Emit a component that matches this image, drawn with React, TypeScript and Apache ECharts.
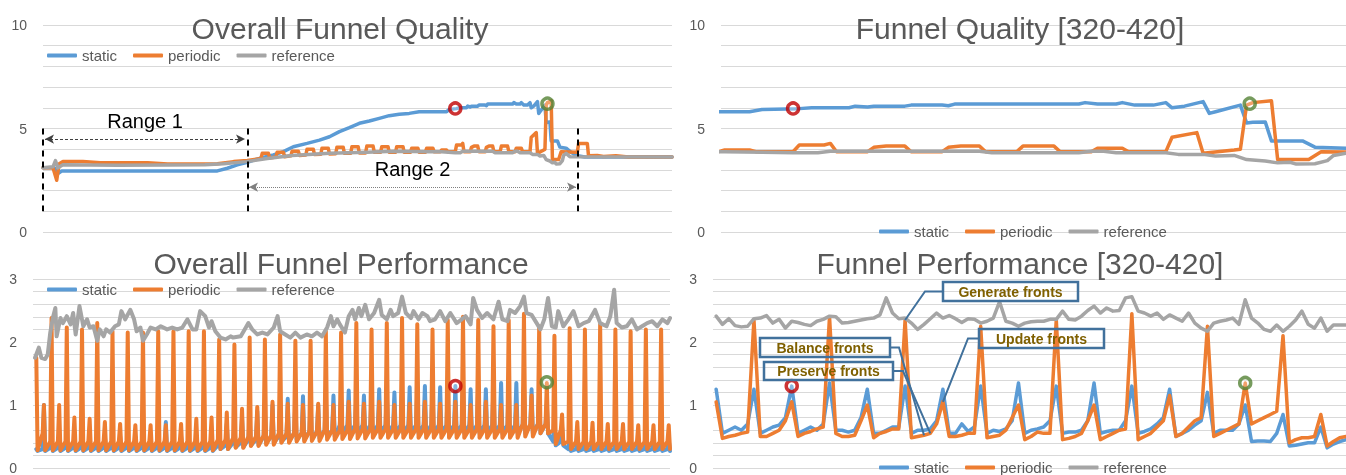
import React, { useEffect, useRef } from 'react';
import * as echarts from 'echarts';

const FONT = 'Liberation Sans';
const BLUE = '#5B9BD5';
const ORANGE = '#ED7D31';
const GRAY = '#A5A5A5';
const TXT = '#595959';

const titles = ['Overall Funnel Quality', 'Funnel Quality [320-420]', 'Overall Funnel Performance', 'Funnel Performance [320-420]'];
const legendNames = ['static', 'periodic', 'reference'];

// ---------- Quality (shared by overall + zoomed panels) ----------
const qualityStatic: [number, number][] = [
  [0, 3.1], [9, 3.1], [12, 2.83], [15, 2.95], [140, 2.95], [148, 3.08], [156, 3.24], [164, 3.37], [174, 3.56], [185, 3.72],
  [193, 3.88], [201, 4.12], [212, 4.28], [222, 4.44], [230, 4.6], [238, 4.85], [246, 5.04], [254, 5.25], [262, 5.36], [270, 5.49],
  [278, 5.62], [286, 5.69], [294, 5.73], [302, 5.81], [318, 5.81], [320, 5.81], [324, 5.81], [326, 5.92], [332, 5.96], [334, 6.0],
  [340, 6.0], [341, 6.08], [343, 6.04], [344, 6.08], [349, 6.08], [350, 6.13], [355, 6.13], [356, 6.1], [357, 6.18], [377, 6.18],
  [378, 6.25], [380, 6.18], [383, 6.18], [384, 6.25], [386, 6.13], [389, 6.13], [391, 6.25], [392, 6.0], [394, 6.08], [397, 6.3],
  [398, 5.73], [399, 5.81], [403, 6.13], [404, 5.27], [405, 5.3], [407, 5.32], [408, 4.4], [413, 4.4], [415, 4.1], [420, 4.05],
  [424, 3.85], [428, 3.7], [435, 3.62], [505, 3.62],
];
const qualityPeriodic: [number, number][] = [
  [0, 3.1], [8, 3.1], [11, 2.5], [13, 3.3], [16, 3.4], [32, 3.4], [46, 3.35], [84, 3.35], [100, 3.28], [140, 3.3], [153, 3.4],
  [164, 3.45], [175, 3.55], [176, 3.8], [181, 3.8], [182, 3.58], [187, 3.62], [188, 3.85], [193, 3.85], [194, 3.64], [199, 3.68],
  [200, 3.9], [205, 3.9], [206, 3.7], [211, 3.72], [212, 4.0], [217, 4.0], [218, 3.74], [223, 3.75], [224, 4.05], [229, 4.05],
  [230, 3.77], [235, 3.78], [236, 4.1], [241, 4.1], [242, 3.8], [247, 3.8], [248, 4.12], [253, 4.12], [254, 3.82], [259, 3.82],
  [260, 4.15], [265, 4.15], [266, 3.85], [271, 3.85], [272, 4.12], [277, 4.12], [278, 3.85], [283, 3.85], [284, 4.12], [289, 4.12],
  [290, 3.85], [295, 3.85], [296, 4.05], [301, 4.05], [302, 3.85], [307, 3.85], [308, 4.05], [313, 4.05], [314, 3.88], [319, 3.88],
  [320, 3.96], [324, 3.96], [325, 3.88], [331, 3.88], [332, 4.2], [336, 4.2], [337, 4.28], [338, 3.88], [343, 3.88], [344, 4.09],
  [346, 4.15], [349, 4.15], [350, 3.88], [355, 3.88], [356, 4.09], [358, 4.15], [361, 4.15], [362, 3.88], [367, 3.88], [368, 4.15],
  [373, 4.15], [374, 3.88], [379, 3.88], [380, 4.05], [384, 4.05], [385, 3.88], [391, 3.88], [392, 4.58], [396, 4.8], [397, 3.8],
  [402, 3.96], [403, 4.0], [404, 6.13], [405, 6.25], [408, 6.34], [409, 3.5], [414, 3.5], [416, 3.88], [429, 3.85], [430, 4.28],
  [437, 4.28], [438, 3.68], [445, 3.7], [450, 3.65], [460, 3.68], [470, 3.62], [505, 3.62],
];
const qualityReference: [number, number][] = [
  [0, 3.1], [8, 3.15], [10, 3.45], [12, 3.1], [16, 3.25], [60, 3.22], [100, 3.24], [130, 3.25], [145, 3.3], [163, 3.4],
  [180, 3.55], [200, 3.7], [230, 3.8], [260, 3.85], [282, 3.9], [310, 3.88], [320, 3.88], [331, 3.83], [335, 3.83], [337, 3.9],
  [361, 3.9], [363, 3.83], [377, 3.83], [379, 3.9], [381, 3.9], [383, 3.83], [391, 3.83], [393, 3.75], [397, 3.75], [399, 3.67],
  [402, 3.7], [404, 3.5], [407, 3.43], [409, 3.34], [411, 3.37], [412, 3.28], [415, 3.3], [417, 3.45], [418, 3.7], [420, 3.8],
  [423, 3.64], [505, 3.62],
];

// ---------- Overall performance: one row per 12-step update cycle ----------
const CYCLE = 12;
const perfPeriodicPeak = [1.75, 2.38, 2.23, 2.2, 2.3, 2.17, 2.15, 2.15, 2.17, 2.17, 2.17, 2.17, 2.04, 1.96, 2.07, 2.04, 2.12, 2.02, 2.02, 2.17, 2.15, 2.3, 2.2, 2.3, 2.38, 2.28, 2.2, 2.35, 2.4, 2.35, 2.25, 2.35, 2.45, 2.25, 2.1, 2.22, 2.2, 2.28, 2.2, 2.17, 2.2, 2.2];
const perfPeriodicMinor = [1.0, 1.0, 0.8, 0.78, 0.73, 0.7, 0.68, 0.68, 0.68, 0.7, 0.78, 0.8, 0.88, 0.94, 0.97, 1.05, 1.02, 1.0, 1.02, 1.0, 1.05, 1.02, 1.05, 1.0, 1.02, 1.05, 1.02, 1.05, 1.0, 1.05, 1.0, 1.0, 1.15, 1.35, 0.85, 0.73, 0.72, 0.7, 0.7, 0.68, 0.68, 0.68];
const perfPeriodicLow = [0.28, 0.28, 0.28, 0.28, 0.28, 0.28, 0.28, 0.28, 0.28, 0.28, 0.28, 0.28, 0.3, 0.32, 0.35, 0.37, 0.4, 0.42, 0.43, 0.45, 0.46, 0.47, 0.48, 0.48, 0.48, 0.48, 0.48, 0.48, 0.48, 0.48, 0.48, 0.48, 0.5, 0.55, 0.38, 0.3, 0.3, 0.3, 0.3, 0.3, 0.3, 0.3];
const perfPeriodicPre = [0.55, 0.42, 0.42, 0.42, 0.42, 0.42, 0.42, 0.42, 0.42, 0.42, 0.42, 0.42, 0.45, 0.48, 0.5, 0.52, 0.55, 0.56, 0.58, 0.6, 0.6, 0.62, 0.62, 0.62, 0.62, 0.62, 0.62, 0.62, 0.62, 0.62, 0.62, 0.62, 0.7, 0.7, 0.6, 0.42, 0.42, 0.42, 0.42, 0.42, 0.42, 0.42];
const perfStaticPeak = [0.3, 0.45, 0.45, 0.45, 0.45, 0.45, 0.45, 0.45, 0.45, 0.45, 0.45, 0.45, 0.6, 0.7, 0.8, 0.9, 1.0, 1.05, 1.05, 1.1, 1.1, 1.15, 1.15, 1.2, 1.2, 1.22, 1.25, 1.25, 1.35, 1.3, 1.3, 1.3, 1.3, 1.2, 0.85, 0.45, 0.45, 0.45, 0.45, 0.45, 0.45, 0.45];
const perfStaticMinor = [1.0, 0.5, 0.5, 0.5, 0.5, 0.5, 0.5, 0.5, 0.73, 0.5, 0.5, 0.5, 0.7, 0.8, 0.9, 1.0, 1.1, 1.14, 1.0, 1.15, 1.23, 1.15, 1.25, 1.2, 1.28, 1.3, 1.28, 1.3, 1.25, 1.25, 1.35, 1.35, 1.25, 1.0, 0.65, 0.45, 0.45, 0.45, 0.45, 0.45, 0.45, 0.45];
const perfStaticLow = [0.27, 0.27, 0.27, 0.27, 0.27, 0.27, 0.27, 0.27, 0.27, 0.27, 0.27, 0.27, 0.3, 0.33, 0.36, 0.4, 0.42, 0.45, 0.47, 0.5, 0.55, 0.55, 0.55, 0.55, 0.55, 0.55, 0.55, 0.55, 0.55, 0.55, 0.55, 0.55, 0.55, 0.55, 0.36, 0.27, 0.27, 0.27, 0.27, 0.27, 0.27, 0.27];
const perfStaticPre = [0.3, 0.32, 0.32, 0.32, 0.32, 0.32, 0.32, 0.32, 0.32, 0.32, 0.32, 0.32, 0.36, 0.4, 0.45, 0.5, 0.5, 0.55, 0.58, 0.6, 0.68, 0.68, 0.68, 0.68, 0.68, 0.68, 0.68, 0.68, 0.68, 0.68, 0.68, 0.68, 0.68, 0.7, 0.42, 0.3, 0.3, 0.3, 0.3, 0.3, 0.3, 0.3];
const perfReference: [number, number][] = [
  [0, 1.75], [3, 1.91], [5, 1.75], [8, 1.73], [10, 1.8], [12, 2.15], [14, 2.38], [16, 2.54], [17, 2.09], [20, 2.38], [22, 2.3],
  [25, 2.41], [28, 2.28], [30, 2.46], [32, 2.12], [35, 2.57], [38, 2.25], [41, 2.36], [43, 2.23], [46, 2.25], [49, 2.02], [51, 2.2],
  [54, 2.09], [56, 2.2], [59, 2.15], [63, 2.25], [66, 2.28], [68, 2.49], [71, 2.36], [75, 2.51], [78, 2.36], [80, 2.17], [83, 2.23],
  [85, 2.02], [88, 2.12], [91, 2.23], [95, 2.2], [99, 2.25], [104, 2.2], [108, 2.23], [112, 2.2], [116, 2.23], [120, 2.36], [124, 2.2],
  [127, 2.2], [130, 2.49], [134, 2.41], [137, 2.23], [139, 2.33], [142, 2.17], [146, 2.07], [150, 2.04], [154, 2.09], [156, 2.07],
  [162, 2.09], [166, 2.23], [168, 2.3], [171, 2.2], [175, 2.12], [179, 2.15], [183, 2.12], [188, 2.23], [191, 2.41], [193, 2.17],
  [197, 2.12], [201, 2.07], [205, 2.15], [209, 2.07], [214, 2.12], [218, 2.09], [222, 2.15], [226, 2.09], [230, 2.23], [233, 2.41],
  [235, 2.25], [238, 2.36], [240, 2.28], [244, 2.15], [247, 2.41], [250, 2.51], [252, 2.36], [255, 2.54], [257, 2.41], [260, 2.59],
  [263, 2.36], [267, 2.46], [271, 2.67], [273, 2.43], [277, 2.36], [280, 2.51], [282, 2.41], [286, 2.46], [289, 2.72], [292, 2.46],
  [296, 2.38], [298, 2.49], [302, 2.36], [305, 2.46], [309, 2.41], [311, 2.33], [315, 2.36], [319, 2.49], [323, 2.33], [327, 2.46],
  [332, 2.3], [336, 2.36], [339, 2.41], [343, 2.28], [345, 2.7], [348, 2.51], [352, 2.38], [356, 2.46], [361, 2.36], [365, 2.64],
  [368, 2.36], [372, 2.33], [374, 2.51], [378, 2.46], [382, 2.57], [385, 2.72], [387, 2.46], [391, 2.43], [395, 2.3], [398, 2.2],
  [401, 2.36], [404, 2.7], [407, 2.25], [410, 2.23], [412, 2.49], [416, 2.25], [420, 2.36], [424, 2.49], [428, 2.25], [432, 2.3],
  [436, 2.33], [441, 2.51], [445, 2.3], [450, 2.25], [453, 2.41], [456, 2.83], [458, 2.3], [462, 2.23], [466, 2.25], [470, 2.36],
  [474, 2.2], [478, 2.25], [482, 2.3], [486, 2.33], [490, 2.25], [494, 2.36], [498, 2.3], [500, 2.38],
];

// ---------- Zoomed performance, steps 320..420 ----------
const zoomStart = 320;
const zoomStatic = [
  1.25, 0.55, 0.6, 0.65, 0.6, 0.7, 1.25, 0.55, 0.6, 0.65,
  0.68, 0.8, 1.3, 0.55, 0.6, 0.65, 0.6, 0.7, 1.35, 0.6,
  0.6, 0.57, 0.6, 0.8, 1.25, 0.55, 0.55, 0.6, 0.65, 0.65,
  1.3, 0.55, 0.6, 0.6, 0.62, 0.75, 1.25, 0.55, 0.55, 0.7,
  0.58, 0.65, 1.3, 0.55, 0.6, 0.58, 0.62, 0.75, 1.35, 0.55,
  0.6, 0.62, 0.65, 0.75, 1.3, 0.55, 0.57, 0.57, 0.6, 0.75,
  1.35, 0.55, 0.58, 0.6, 0.6, 0.75, 1.3, 0.55, 0.58, 0.62,
  0.7, 0.8, 1.25, 0.5, 0.55, 0.6, 0.68, 0.75, 1.2, 0.55,
  0.6, 0.6, 0.6, 0.7, 1.0, 0.42, 0.43, 0.43, 0.42, 0.55,
  0.85, 0.35, 0.36, 0.38, 0.4, 0.4, 0.65, 0.32, 0.38, 0.42,
  0.45,
];
const zoomPeriodic = [
  1.05, 0.47, 0.5, 0.52, 0.55, 0.57, 2.35, 0.5, 0.5, 0.55,
  0.6, 0.75, 1.05, 0.5, 0.55, 0.58, 0.62, 0.65, 2.4, 0.55,
  0.5, 0.5, 0.52, 0.75, 1.0, 0.48, 0.55, 0.58, 0.62, 0.62,
  2.35, 0.48, 0.5, 0.52, 0.55, 0.7, 1.05, 0.5, 0.5, 0.52,
  0.55, 0.55, 2.25, 0.48, 0.5, 0.52, 0.6, 0.8, 1.0, 0.45,
  0.5, 0.57, 0.55, 0.55, 2.35, 0.45, 0.47, 0.5, 0.55, 0.75,
  1.0, 0.45, 0.5, 0.55, 0.6, 0.62, 2.45, 0.45, 0.5, 0.55,
  0.65, 0.75, 1.15, 0.5, 0.55, 0.65, 0.75, 0.8, 2.25, 0.5,
  0.55, 0.6, 0.65, 0.7, 1.35, 0.7, 0.75, 0.8, 0.85, 0.9,
  2.1, 0.4, 0.45, 0.48, 0.48, 0.5, 0.85, 0.35, 0.42, 0.48,
  0.5,
];
const zoomReference = [
  2.41, 2.28, 2.37, 2.26, 2.24, 2.25, 2.37, 2.38, 2.42, 2.3,
  2.36, 2.22, 2.33, 2.31, 2.28, 2.26, 2.33, 2.36, 2.41, 2.4,
  2.3, 2.31, 2.33, 2.35, 2.37, 2.38, 2.43, 2.7, 2.46, 2.37,
  2.38, 2.3, 2.2, 2.28, 2.37, 2.46, 2.38, 2.42, 2.37, 2.31,
  2.37, 2.36, 2.3, 2.33, 2.38, 2.64, 2.33, 2.3, 2.25, 2.3,
  2.32, 2.33, 2.33, 2.36, 2.36, 2.49, 2.36, 2.35, 2.41, 2.5,
  2.57, 2.46, 2.54, 2.49, 2.5, 2.7, 2.72, 2.49, 2.46, 2.41,
  2.46, 2.36, 2.43, 2.38, 2.33, 2.46, 2.3, 2.22, 2.17, 2.3,
  2.33, 2.35, 2.38, 2.28, 2.67, 2.38, 2.3, 2.2, 2.17, 2.27,
  2.17, 2.25, 2.35, 2.49, 2.28, 2.22, 2.38, 2.17, 2.27, 2.27,
  2.27,
];

// highlighted points [x, y] per panel
const redMarks: [number, number][] = [[331, 5.97], [331, 5.97], [331, 1.3], [332, 1.3]];
const greenMarks: [number, number][] = [[405, 6.2], [404.5, 6.2], [403, 1.36], [404, 1.35]];

// callouts in the zoomed performance panel: label, target step
const callouts = [
  { text: 'Generate fronts', step: 350 },
  { text: 'Balance fronts', step: 353 },
  { text: 'Preserve fronts', step: 354 },
  { text: 'Update fronts', step: 356 },
];

function cycles(peak: number[], minor: number[], low: number[], pre: number[]) {
  const pts: number[][] = [];
  peak.forEach((p, k) => {
    const x = CYCLE * k + 1;
    if (k > 0) pts.push([x - 1, pre[k]]);
    pts.push([x, p], [x + 1, low[k]], [x + 5, pre[k]], [x + 6, minor[k]], [x + 7, low[k]]);
  });
  return pts;
}
const zoomPairs = (arr: number[]) => arr.map((v, i) => [zoomStart + i, v]);

const lineSeries = (name: string, idx: number, data: number[][], color: string, width: number, extra: any = {}) => ({
  type: 'line', name, xAxisIndex: idx, yAxisIndex: idx, data, showSymbol: false, symbol: 'none',
  lineStyle: { width, color, join: 'round', cap: 'round' }, itemStyle: { color },
  emphasis: { disabled: true }, silent: true, clip: true, animation: false, ...extra,
});
const ring = (idx: number, pt: [number, number], color: string) => ({
  type: 'scatter', name: 'mark', xAxisIndex: idx, yAxisIndex: idx, data: [pt], symbol: 'circle', symbolSize: 11,
  itemStyle: { color: 'rgba(255,255,255,0.35)', borderColor: color, borderWidth: 3.5 }, z: 10, silent: true, animation: false,
});

const dashed = { color: '#000', width: 2, type: [6, 5] };
const rangeLabel = (t: string) => ({ show: true, position: 'middle', formatter: t, fontSize: 20, color: '#000', fontFamily: FONT, distance: 8 });

function buildOption() {
  const yTop = (idx: number) => ({
    gridIndex: idx, type: 'value', min: 0, max: 10, interval: 1,
    axisLine: { show: false }, axisTick: { show: false },
    axisLabel: { color: TXT, fontSize: 14, fontFamily: FONT, margin: 16, formatter: (v: number) => (v % 5 === 0 ? String(v) : '') },
    splitLine: { lineStyle: { color: '#D9D9D9', width: 1 } },
  });
  const yBot = (idx: number) => ({
    gridIndex: idx, type: 'value', min: 0, max: 3, interval: 0.2,
    axisLine: { show: false }, axisTick: { show: false },
    axisLabel: { color: TXT, fontSize: 14, fontFamily: FONT, margin: 16, formatter: (v: number) => (Math.abs(v - Math.round(v)) < 1e-6 ? String(Math.round(v)) : '') },
    splitLine: { lineStyle: { color: '#D9D9D9', width: 1 } },
  });
  const legend = (left: number, top: number) => ({
    data: legendNames, left, top, icon: 'roundRect', itemWidth: 30, itemHeight: 4, itemGap: 16, padding: 0,
    selectedMode: false, textStyle: { fontSize: 15, color: TXT, fontFamily: FONT },
  });
  const title = (text: string, left: number, top: number) => ({
    text, left, top, textAlign: 'center', padding: 0,
    textStyle: { fontSize: 30, fontWeight: 'normal', color: TXT, fontFamily: FONT },
  });

  const perfPeriodic = cycles(perfPeriodicPeak, perfPeriodicMinor, perfPeriodicLow, perfPeriodicPre);
  const perfStatic = cycles(perfStaticPeak, perfStaticMinor, perfStaticLow, perfStaticPre);

  const series: any[] = [];
  [0, 1].forEach((i) => {
    series.push(lineSeries('static', i, qualityStatic, BLUE, 3.5));
    series.push(lineSeries('periodic', i, qualityPeriodic, ORANGE, 3.5));
    series.push(lineSeries('reference', i, qualityReference, GRAY, 3.5, i === 0 ? {
      markLine: {
        silent: true, symbol: 'none', animation: false, label: { show: false },
        data: [
          [{ coord: [0, 5], lineStyle: dashed }, { coord: [0, 1] }],
          [{ coord: [164, 5], lineStyle: dashed }, { coord: [164, 1] }],
          [{ coord: [429.5, 5], lineStyle: dashed }, { coord: [429.5, 1] }],
          [{ coord: [1.6, 4.49], symbol: 'arrow', symbolSize: [7, 9], lineStyle: { color: '#404040', width: 1.2, type: [3, 2] }, label: rangeLabel('Range 1') },
            { coord: [162.2, 4.49], symbol: 'arrow', symbolSize: [7, 9] }],
          [{ coord: [165.4, 2.17], symbol: 'arrow', symbolSize: [7, 9], lineStyle: { color: '#7F7F7F', width: 1, type: [1, 1] }, label: rangeLabel('Range 2') },
            { coord: [428, 2.17], symbol: 'arrow', symbolSize: [7, 9] }],
        ],
      },
    } : {}));
  });
  series.push(lineSeries('static', 2, perfStatic, BLUE, 4));
  series.push(lineSeries('periodic', 2, perfPeriodic, ORANGE, 4));
  series.push(lineSeries('reference', 2, perfReference, GRAY, 4));
  series.push(lineSeries('static', 3, zoomPairs(zoomStatic), BLUE, 3.5));
  series.push(lineSeries('periodic', 3, zoomPairs(zoomPeriodic), ORANGE, 3.5));
  series.push(lineSeries('reference', 3, zoomPairs(zoomReference), GRAY, 3.5));
  [0, 1, 2, 3].forEach((i) => {
    series.push(ring(i, redMarks[i], '#C00000'));
    series.push(ring(i, greenMarks[i], '#548235'));
  });

  return {
    animation: false,
    textStyle: { fontFamily: FONT },
    title: [title(titles[0], 340, 13), title(titles[1], 1020, 13), title(titles[2], 341, 248), title(titles[3], 1020, 248)],
    legend: [legend(47, 48), legend(879, 224), legend(47, 282), legend(879, 460)],
    grid: [
      { left: 43, top: 25, width: 629, height: 207 },
      { left: 721, top: 25, width: 625, height: 207 },
      { left: 33, top: 279, width: 637, height: 191 },
      { left: 713, top: 279, width: 633, height: 191 },
    ],
    xAxis: [
      { gridIndex: 0, type: 'value', min: 0, max: 505, show: false },
      { gridIndex: 1, type: 'value', min: 319.4, max: 420, show: false },
      { gridIndex: 2, type: 'value', min: -1.6, max: 500, show: false },
      { gridIndex: 3, type: 'value', min: 319.5, max: 420, show: false },
    ],
    yAxis: [yTop(0), yTop(1), yBot(2), yBot(3)],
    series,
  };
}

// callout boxes (pixel layout) and the elbow of each leader line
const boxes = [
  { x: 943, y: 282, w: 135, h: 19, elbow: [[943, 291.5], [925, 291.5]] },
  { x: 760, y: 338, w: 130, h: 19, elbow: [[890, 347.5], [899, 347.5]] },
  { x: 764, y: 362, w: 129, h: 18, elbow: [[893, 371], [903, 371]] },
  { x: 979, y: 329, w: 125, h: 19, elbow: [[979, 338.5], [968, 338.5]] },
];

export default function App() {
  const ref = useRef<HTMLDivElement>(null);
  useEffect(() => {
    const chart = echarts.init(ref.current!, undefined, { renderer: 'svg' });
    chart.setOption(buildOption() as any);
    const elements: any[] = [];
    callouts.forEach((c, i) => {
      const b = boxes[i];
      const target = chart.convertToPixel({ gridIndex: 3 } as any, [c.step, zoomPeriodic[c.step - zoomStart]]) as number[];
      elements.push({
        type: 'polyline', z: 100, silent: true,
        shape: { points: [...b.elbow, target] },
        style: { stroke: '#41719C', lineWidth: 2, fill: null },
      });
      elements.push({
        type: 'rect', z: 100, silent: true,
        shape: { x: b.x, y: b.y, width: b.w, height: b.h },
        style: { fill: 'none', stroke: '#41719C', lineWidth: 2.5 },
      });
      elements.push({
        type: 'text', z: 101, silent: true,
        style: {
          text: c.text, x: b.x + b.w / 2, y: b.y + b.h / 2, fill: '#7F6000',
          fontSize: 14, fontWeight: 'bold', fontFamily: FONT,
          textAlign: 'center', textVerticalAlign: 'middle', align: 'center', verticalAlign: 'middle',
        },
      });
    });
    chart.setOption({ graphic: { elements } } as any);
    return () => chart.dispose();
  }, []);
  return <div ref={ref} style={{ position: 'fixed', left: 0, top: 0, width: 1346, height: 475 }} />;
}
